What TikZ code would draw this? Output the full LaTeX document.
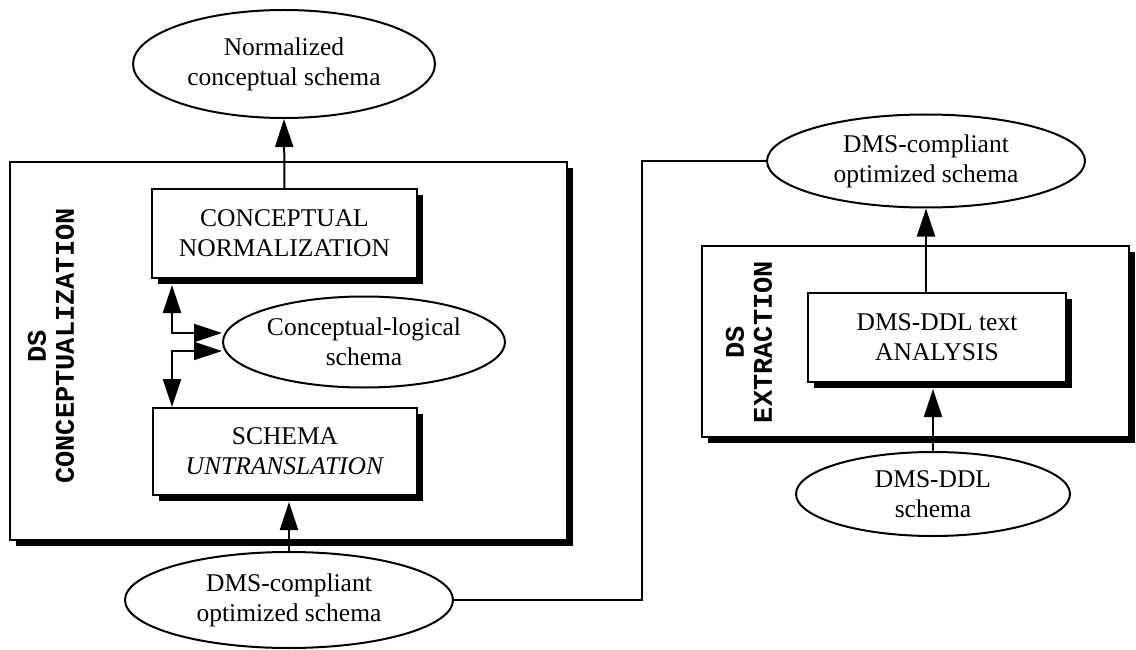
\documentclass[tikz,border=0pt]{standalone}
\usepackage{fontspec}
\setmainfont{Liberation Serif}
\newfontfamily\stagefont{Liberation Mono}
\usetikzlibrary{shapes.geometric, arrows.meta, shadows, calc}

\begin{document}
\begin{tikzpicture}[x=1pt, y=-1pt,
  every node/.style={font=\fontsize{25.5pt}{30pt}\selectfont},
  boxshadow/.style={drop shadow={shadow xshift=6pt, shadow yshift=-6pt, fill=black, opacity=1}},
  stageframe/.style={draw, line width=2pt, fill=white, rectangle, inner sep=0pt, boxshadow},
  procbox/.style={draw, line width=2pt, fill=white, rectangle, inner sep=0pt, align=center, boxshadow},
  datastore/.style={draw, line width=2pt, fill=white, ellipse, inner sep=0pt, align=center},
  stagelabel/.style={rotate=90, inner sep=0pt, font=\stagefont\bfseries\fontsize{27pt}{30pt}\selectfont},
  flow/.style={line width=2pt},
  arrowflow/.style={flow, -{Triangle[length=28pt, width=18pt]}},
  biflow/.style={flow, {Triangle[length=28pt, width=18pt]}-{Triangle[length=28pt, width=18pt]}}
]
\useasboundingbox (0,0) rectangle (1136,650);

% stage frames
\node[stageframe, minimum width=557pt, minimum height=378pt] (conceptframe) at (288.5,351) {};
\node[stageframe, minimum width=427pt, minimum height=191pt] (extractframe) at (915.5,341.5) {};

% stage titles
\node[stagelabel] (dsA) at (37,346) {DS};
\node[stagelabel] (conceptualization) at (65,346) {CONCEPTUALIZATION};
\node[stagelabel] (dsB) at (735,342) {DS};
\node[stagelabel] (extraction) at (763,342) {EXTRACTION};

% processes
\node[procbox, minimum width=265pt, minimum height=89pt] (normalization) at (284.5,233.5)
  {CONCEPTUAL\\NORMALIZATION};
\node[procbox, minimum width=264pt, minimum height=87pt] (untranslation) at (285,451.5)
  {SCHEMA\\\textit{UNTRANSLATION}};
\node[procbox, minimum width=258pt, minimum height=89pt] (analysis) at (937,337.5)
  {DMS-DDL text\\ANALYSIS};

% schemas
\node[datastore, minimum width=302pt, minimum height=108pt] (normalized) at (284,64)
  {Normalized\\conceptual schema};
\node[datastore, minimum width=282pt, minimum height=91pt] (conclogical) at (364,342)
  {Conceptual-logical\\schema};
\node[datastore, minimum width=328pt, minimum height=96pt] (optimizedA) at (289,600)
  {DMS-compliant\\optimized schema};
\node[datastore, minimum width=318pt, minimum height=93pt] (optimizedB) at (926,161)
  {DMS-compliant\\optimized schema};
\node[datastore, minimum width=274pt, minimum height=84pt] (ddlschema) at (933,494)
  {DMS-DDL\\schema};

% routing helpers
\coordinate (trunk) at (172,0);
\coordinate (turn) at (642,300);

% connectors
\draw[arrowflow] (normalization.north) -- (normalized.south);
\draw[biflow] ($(normalization.south -| trunk)+(0,6)$) |- ($(conclogical.west)+(0,-9)$);
\draw[biflow] ($(conclogical.west)+(0,9)$) -| (untranslation.north -| trunk);
\draw[arrowflow] (optimizedA.north) -- ($(optimizedA.north |- untranslation.south)+(0,6)$);
\draw[flow] (optimizedA.east) -| (turn) |- (optimizedB.west);
\draw[arrowflow] (analysis.north -| optimizedB.south) -- (optimizedB.south);
\draw[arrowflow] (ddlschema.north) -- ($(ddlschema.north |- analysis.south)+(0,6)$);
\end{tikzpicture}
\end{document}
